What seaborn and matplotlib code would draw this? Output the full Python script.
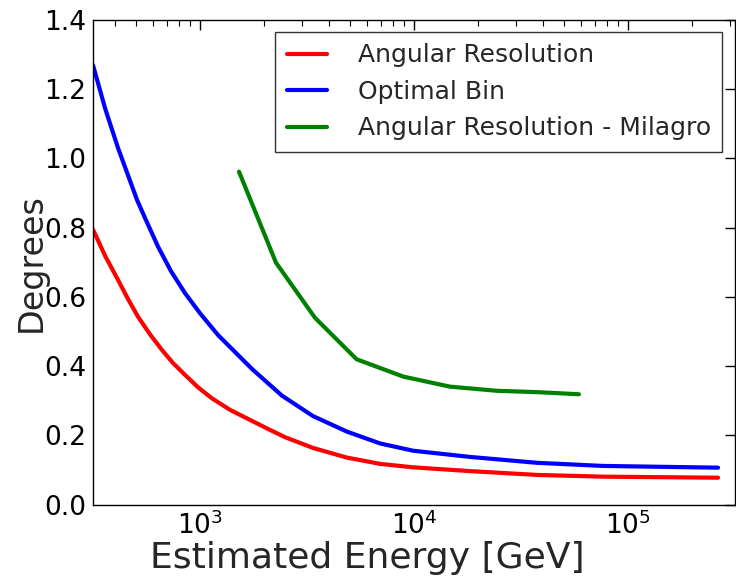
import numpy as np
import pandas as pd
import matplotlib
matplotlib.use("Agg")
import matplotlib.pyplot as plt
import seaborn as sns

# ---- data ----
energy_res = [316, 360, 414, 461, 513, 584, 664, 748, 851, 979, 1138, 1381,
              1750, 2124, 2496, 3373, 4864, 6936, 9886, 18280, 37580, 76380,
              263600]
deg_res = [0.795, 0.719, 0.649, 0.594, 0.543, 0.492, 0.447, 0.409, 0.375,
           0.339, 0.307, 0.274, 0.242, 0.216, 0.195, 0.164, 0.136, 0.118,
           0.108, 0.097, 0.086, 0.081, 0.078]

energy_bin = [316, 360, 414, 508, 559, 637, 731, 851, 1000, 1214, 1750,
              2415, 3373, 4864, 6936, 9886, 18280, 37580, 76380, 263600]
deg_bin = [1.270, 1.145, 1.030, 0.880, 0.822, 0.745, 0.675, 0.611,
           0.553, 0.490, 0.392, 0.315, 0.256, 0.211, 0.177, 0.156, 0.138,
           0.121, 0.112, 0.107]

energy_mil = [1521, 2265, 3444, 5395, 8909, 14720, 24400, 38000, 59000]
deg_mil = [0.962, 0.699, 0.540, 0.420, 0.370, 0.341, 0.329, 0.325, 0.319]

labels = ["Angular Resolution", "Optimal Bin", "Angular Resolution - Milagro"]
colors = ["#ff0000", "#0000ff", "#008000"]

df = pd.concat([
    pd.DataFrame({"energy": energy_res, "deg": deg_res, "series": labels[0]}),
    pd.DataFrame({"energy": energy_bin, "deg": deg_bin, "series": labels[1]}),
    pd.DataFrame({"energy": energy_mil, "deg": deg_mil, "series": labels[2]}),
], ignore_index=True)

sns.set_style("white")
plt.rcParams["font.family"] = ["DejaVu Sans"]

fig = plt.figure(figsize=(7.36, 5.83), dpi=100)
ax = fig.add_axes([0.1264, 0.1343, 0.8722, 0.8314])

sns.lineplot(data=df, x="energy", y="deg", hue="series", hue_order=labels,
             palette=dict(zip(labels, colors)), lw=3, sort=False,
             estimator=None, ax=ax)

ax.set_xscale("log")
ax.set_xlim(10 ** 2.5, 10 ** 5.5)
ax.set_ylim(0, 1.4)
ax.set_yticks(np.arange(0, 1.41, 0.2))
ax.yaxis.set_major_formatter(matplotlib.ticker.FormatStrFormatter("%.1f"))

for s in ax.spines.values():
    s.set_color("black")
    s.set_linewidth(1.0)

ax.tick_params(which="both", direction="in", top=True, right=True,
               colors="black", labelcolor="black")
ax.tick_params(which="major", length=7, width=1, labelsize=19, pad=5)
ax.tick_params(which="minor", length=4, width=0.8)

ax.set_xlabel("Estimated Energy [GeV]", fontsize=26)
ax.set_ylabel("Degrees", fontsize=24)
ax.xaxis.set_label_coords(0.428, -0.075)
ax.yaxis.set_label_coords(-0.070, 0.5)

leg = ax.legend(loc="upper right", fontsize=18, frameon=True, fancybox=False,
                handlelength=1.6, handletextpad=1.25, labelspacing=0.5,
                borderpad=0.45, borderaxespad=0,
                bbox_to_anchor=(0.98, 0.975))
leg.get_frame().set_edgecolor("black")
leg.get_frame().set_linewidth(1.0)
for h in leg.get_lines():
    h.set_linewidth(3)

fig.savefig("out.png", dpi=100)
